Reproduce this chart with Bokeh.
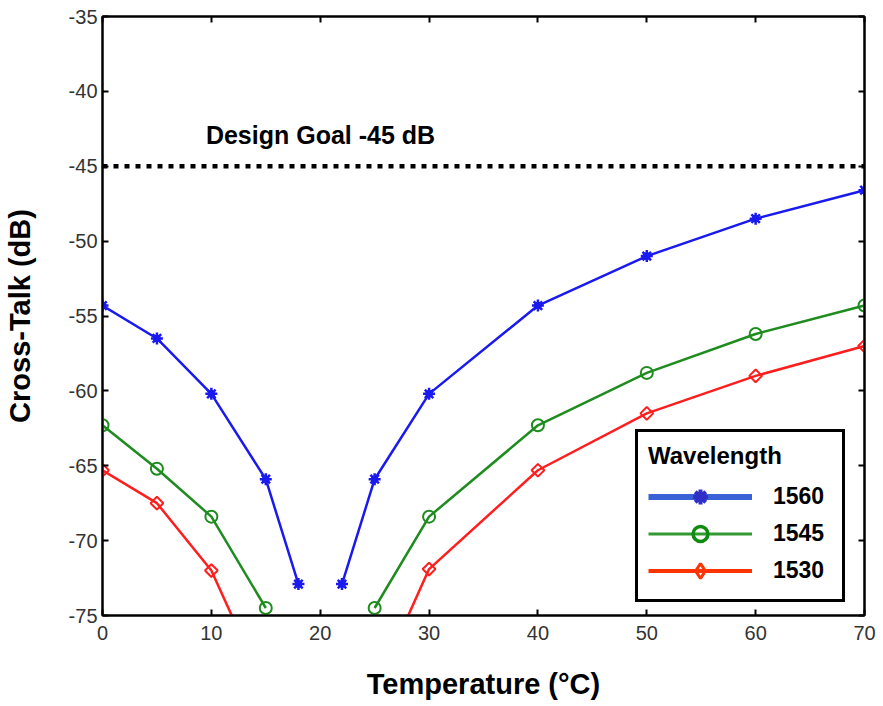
import numpy as np
from bokeh.plotting import figure
from bokeh.models import (ColumnDataSource, LinearAxis, Legend, LegendItem, Label,
                          FixedTicker, Range1d, PrintfTickFormatter, CustomLabelingPolicy)
from bokeh.embed import file_html
from bokeh.resources import INLINE

nan = float("nan")

# ---- data ----
temp_1560 = [0, 5, 10, 15, 18, 20, 22, 25, 30, 40, 50, 60, 70]
xtalk_1560 = [-54.3, -56.5, -60.2, -65.9, -72.9, nan, -72.9, -65.9, -60.2, -54.3, -51.0, -48.5, -46.6]

temp_1545 = [0, 5, 10, 15, 20, 25, 30, 40, 50, 60, 70]
xtalk_1545 = [-62.3, -65.2, -68.4, -74.5, nan, -74.5, -68.4, -62.3, -58.8, -56.2, -54.3]

temp_1530 = [0, 5, 10, 15, 20, 25, 30, 40, 50, 60, 70]
xtalk_1530 = [-65.3, -67.5, -72.0, -80.0, nan, -80.0, -71.9, -65.3, -61.5, -59.0, -57.0]

wavelength_labels = ["1560", "1545", "1530"]
goal_db = -45
goal_temps = [0, 70]
x_ticks = [0, 10, 20, 30, 40, 50, 60, 70]
y_ticks = [-75, -70, -65, -60, -55, -50, -45, -40, -35]

FONT = "Liberation Sans"
BLUE, GREEN, RED = "#1a1af0", "#1e8c1e", "#ff1e1e"

src_1560 = ColumnDataSource(dict(x=np.array(temp_1560, float), y=np.array(xtalk_1560, float)))
src_1545 = ColumnDataSource(dict(x=np.array(temp_1545, float), y=np.array(xtalk_1545, float)))
src_1530 = ColumnDataSource(dict(x=np.array(temp_1530, float), y=np.array(xtalk_1530, float)))

p = figure(width=883, height=706, x_range=Range1d(0, 70), y_range=Range1d(-75, -35),
           output_backend="svg", toolbar_location=None,
           min_border_left=102, min_border_right=19, min_border_top=16, min_border_bottom=91,
           x_axis_label="Temperature (°C)", y_axis_label="Cross-Talk (dB)")
p.xgrid.visible = False
p.ygrid.visible = False
p.outline_line_color = "black"
p.outline_line_width = 2
p.background_fill_color = "white"
p.border_fill_color = "white"

p.add_layout(LinearAxis(), "right")
p.add_layout(LinearAxis(), "above")

for ax in p.below + p.above:
    ax.ticker = FixedTicker(ticks=x_ticks)
for ax in p.left + p.right:
    ax.ticker = FixedTicker(ticks=y_ticks)

for ax in p.below + p.above + p.left + p.right:
    ax.formatter = PrintfTickFormatter(format="%d")
    ax.axis_line_color = "black"
    ax.axis_line_width = 2
    ax.major_tick_in = 6
    ax.major_tick_out = 0
    ax.major_tick_line_color = "black"
    ax.major_tick_line_width = 2
    ax.minor_tick_line_color = None
    ax.major_label_text_font = FONT
    ax.major_label_text_font_size = "20px"
    ax.major_label_text_color = "#333333"
    ax.axis_label_text_font = FONT
    ax.axis_label_text_font_size = "29px"
    ax.axis_label_text_font_style = "bold"
    ax.axis_label_text_color = "black"

xb = p.below[0]
xb.major_label_standoff = 10
xb.axis_label_standoff = 25
yl = p.left[0]
yl.major_label_standoff = 5
yl.axis_label_standoff = 30

hide_all = CustomLabelingPolicy(code="""
    const idx = []
    for (const i of indices) idx.push(i)
    for (const i of idx) indices.unset(i)
    return indices
""")
for ax in (p.right[0], p.above[0]):
    ax.major_label_policy = hide_all
    ax.major_label_text_font_size = "0px"
    ax.major_label_standoff = 0
    ax.axis_label = None

# design goal line
p.line(goal_temps, [goal_db] * len(goal_temps), line_color="black", line_width=4.5,
       line_dash="5 6")
p.add_layout(Label(x=9.5, y=-42.9, text="Design Goal -45 dB", text_font=FONT,
                   text_font_size="25px", text_font_style="bold", text_color="black",
                   text_baseline="alphabetic"))

# series
p.line("x", "y", source=src_1560, line_color=BLUE, line_width=2.5)
p.scatter("x", "y", source=src_1560, marker="asterisk", size=12, line_color=BLUE, line_width=2.5)
p.scatter("x", "y", source=src_1560, marker="circle", size=7, line_color=BLUE, fill_color=BLUE)

p.line("x", "y", source=src_1545, line_color=GREEN, line_width=2.5)
p.scatter("x", "y", source=src_1545, marker="circle", size=12, line_color=GREEN, line_width=2,
          fill_alpha=0)

p.line("x", "y", source=src_1530, line_color=RED, line_width=2.5)
p.scatter("x", "y", source=src_1530, marker="square", angle=np.pi / 4, size=9, line_color=RED,
          line_width=2, fill_alpha=0)

# legend-only styled glyphs (MATLAB-like legend); not drawn in the plot area
lb1 = p.line("x", "y", source=src_1560, line_color="#3a62d6", line_width=6, visible=False)
lb2 = p.scatter("x", "y", source=src_1560, marker="asterisk", line_color="#2f2fc8",
                line_width=4, visible=False)
lg1 = p.line("x", "y", source=src_1545, line_color="#339933", line_width=3, visible=False)
lg2 = p.scatter("x", "y", source=src_1545, marker="circle", line_color="#108a10",
                line_width=3.5, fill_alpha=0, visible=False)
lr1 = p.line("x", "y", source=src_1530, line_color="#ff3300", line_width=4, visible=False)
lr2 = p.scatter("x", "y", source=src_1530, marker="diamond", line_color="#ff3300",
                line_width=3, fill_alpha=0, visible=False)

legend = Legend(items=[LegendItem(label=wavelength_labels[0], renderers=[lb1, lb2]),
                       LegendItem(label=wavelength_labels[1], renderers=[lg1, lg2]),
                       LegendItem(label=wavelength_labels[2], renderers=[lr1, lr2])],
                title="Wavelength", location=(533, 13), margin=0,
                padding=10, spacing=0, glyph_width=104, glyph_height=37, label_height=37,
                label_width=59, label_standoff=21, title_standoff=8,
                inactive_fill_alpha=0,
                border_line_color="black", border_line_width=3, border_line_alpha=1,
                background_fill_color="white", background_fill_alpha=1,
                title_text_font=FONT, title_text_font_size="24px", title_text_font_style="bold",
                title_text_color="black",
                label_text_font=FONT, label_text_font_size="23px", label_text_font_style="bold",
                label_text_color="black")
p.add_layout(legend)

open("out.html", "w").write(file_html(p, INLINE))
